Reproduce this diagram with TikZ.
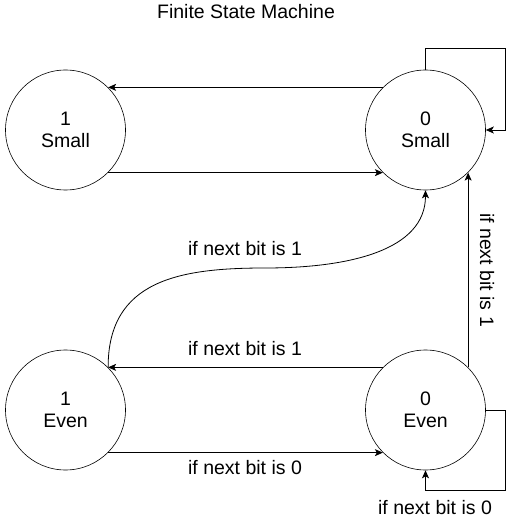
\documentclass[tikz,border=0pt]{standalone}
\usepackage{fontspec}
\setmainfont{Liberation Sans}
\usetikzlibrary{arrows.meta,calc}
\begin{document}
\begin{tikzpicture}[x=1pt,y=-1pt,
  state/.style={circle,draw,line width=0.6pt,minimum size=120pt,inner sep=0pt,align=center,
    font=\fontsize{19.5}{22.5}\selectfont},
  lbl/.style={font=\fontsize{19.5}{22.5}\selectfont,inner sep=0pt},
  arr/.style={line width=0.8pt,-{Stealth[length=8pt,width=7pt,inset=2pt]}}]
\useasboundingbox (0,0) rectangle (531,527);
\node[lbl] (title) at (246,12) {Finite State Machine};
\node[state] (s1) at (65.5,130) {1\\Small};
\node[state] (s0) at (425.5,130) {0\\Small};
\node[state] (e1) at (65.5,410) {1\\Even};
\node[state] (e0) at (425.5,410) {0\\Even};
% top horizontal
\draw[arr] (s0.135) -- (s1.45);
\draw[arr] (s1.-45) -- (s0.-135);
% top self loop
\draw[arr] (s0.north) -- ++(0,-21) -| ([xshift=20pt]s0.east) -- (s0.east);
% curve
\draw[arr] (e1.45) .. controls (107.9,280) and (180,268) .. (265,268)
  .. controls (350,268) and (425.5,250) .. (s0.south);
\node[lbl] (lc) at (245,249) {if next bit is 1};
% bottom horizontal
\draw[arr] (e0.135) -- (e1.45);
\node[lbl] (lm) at (245,349) {if next bit is 1};
\draw[arr] (e1.-45) -- (e0.-135);
\node[lbl] (lb) at (245,468) {if next bit is 0};
% vertical
\draw[arr] (e0.45) -- (s0.-45);
\node[lbl,rotate=-90] (lv) at (487,270) {if next bit is 1};
% bottom self loop
\draw[arr] (e0.east) -- ++(20,0) |- ([yshift=-20pt]e0.south) -- (e0.south);
\node[lbl] (ll) at (435,508) {if next bit is 0};
\end{tikzpicture}
\end{document}
